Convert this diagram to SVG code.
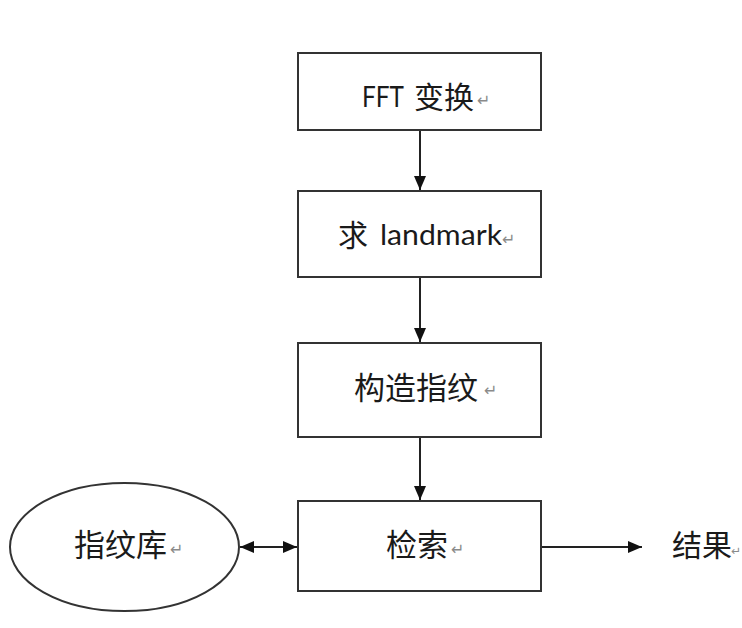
<svg xmlns="http://www.w3.org/2000/svg" width="742" height="628" viewBox="0 0 742 628">
<style>
.box{fill:#fff;stroke:#333;stroke-width:2}
.cn{font-family:"Noto Sans CJK SC","Noto Sans",sans-serif;font-size:30px;fill:#1a1a1a}
.en{font-family:"Lato","Liberation Sans",sans-serif;font-size:28px;fill:#1a1a1a}
.ret{font-family:"DejaVu Sans",sans-serif;font-size:16px;fill:#8a8a8a}
.line{stroke:#222;stroke-width:2;fill:none}
</style>
<defs>
<marker id="ah" viewBox="0 0 14 12" refX="14" refY="6" markerWidth="14" markerHeight="12" markerUnits="userSpaceOnUse" orient="auto-start-reverse">
<path d="M0,0 L14,6 L0,12 Z" fill="#111"/>
</marker>
</defs>
<rect width="742" height="628" fill="#fff"/>
<g id="connectors">
<line class="line" x1="420" y1="131" x2="420" y2="190" marker-end="url(#ah)"/>
<line class="line" x1="420" y1="277" x2="420" y2="342" marker-end="url(#ah)"/>
<line class="line" x1="420" y1="437" x2="420" y2="500" marker-end="url(#ah)"/>
<line class="line" x1="240" y1="547" x2="297" y2="547" marker-start="url(#ah)" marker-end="url(#ah)"/>
<line class="line" x1="541" y1="547" x2="642" y2="547" marker-end="url(#ah)"/>
</g>
<g id="fft">
<rect class="box" x="298" y="53" width="243" height="77"/>
<text class="en" x="362" y="107" textLength="42" lengthAdjust="spacingAndGlyphs">FFT</text>
<text class="cn" x="414" y="108">变换</text>
<text class="ret" x="477" y="106">↵</text>
</g>
<g id="landmark">
<rect class="box" x="298" y="191" width="243" height="86"/>
<text class="cn" x="338" y="246">求</text>
<text class="en" x="380" y="245" textLength="122" lengthAdjust="spacingAndGlyphs">landmark</text>
<text class="ret" x="502" y="245">↵</text>
</g>
<g id="construct">
<rect class="box" x="298" y="343" width="243" height="94"/>
<text class="cn" x="354" y="399" style="font-size:31px">构造指纹</text>
<text class="ret" x="484" y="396">↵</text>
</g>
<g id="search">
<rect class="box" x="298" y="501" width="243" height="90"/>
<text class="cn" x="386" y="556" style="font-size:31px">检索</text>
<text class="ret" x="451" y="555">↵</text>
</g>
<g id="db">
<ellipse cx="124.5" cy="547" rx="114.5" ry="64" fill="#fff" stroke="#333" stroke-width="2"/>
<text class="cn" x="74" y="556" style="font-size:31px">指纹库</text>
<text class="ret" x="170" y="555">↵</text>
</g>
<g id="result">
<text class="cn" x="672" y="556" style="font-size:30px">结果</text>
<text class="ret" x="731" y="555" style="font-size:12px">↵</text>
</g>
</svg>
